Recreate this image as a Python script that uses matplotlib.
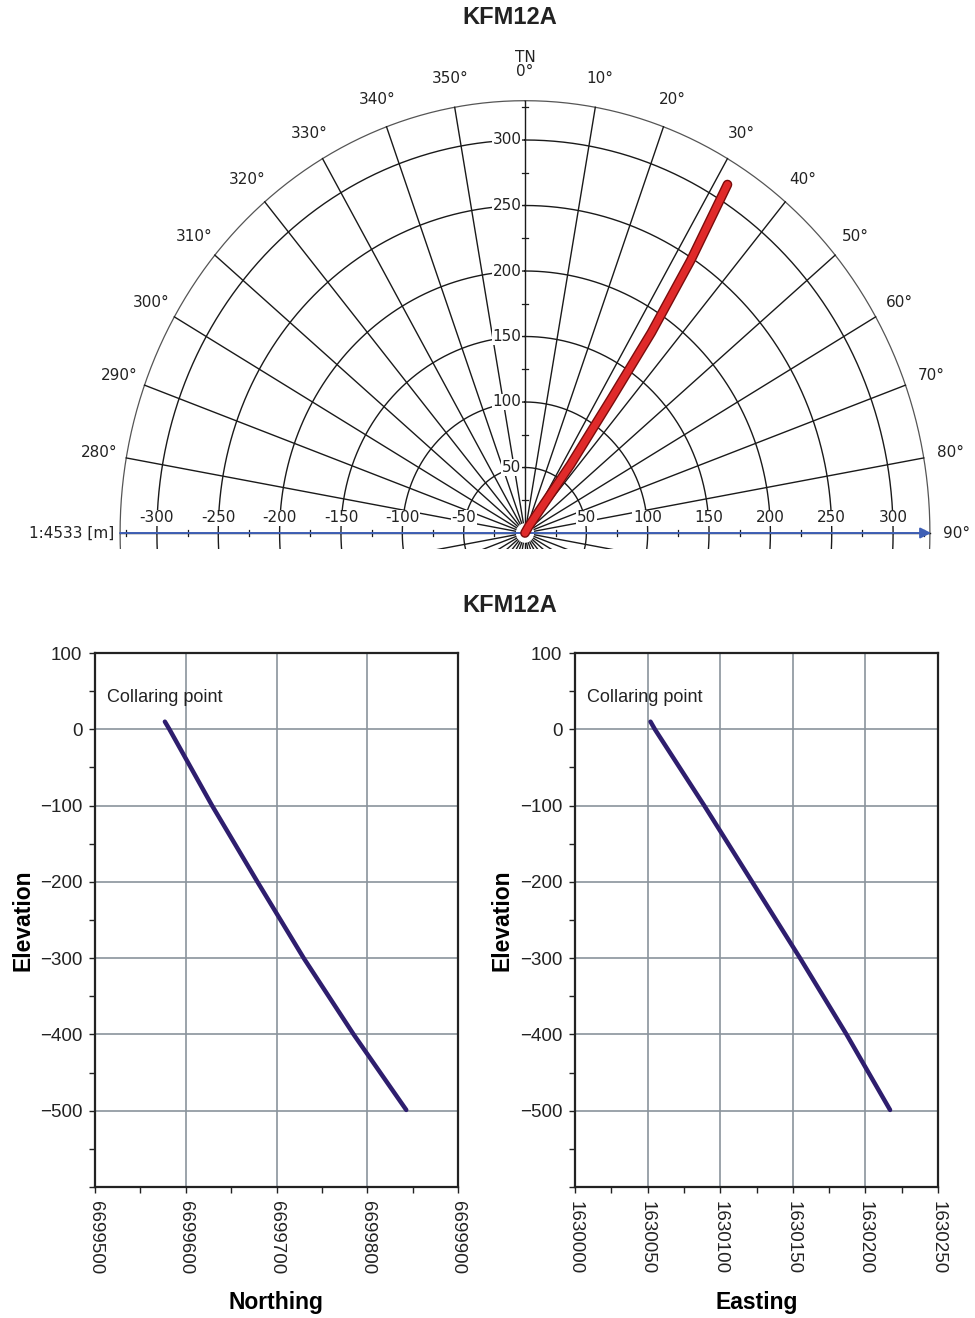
import numpy as np
import matplotlib
matplotlib.use("Agg")
import matplotlib.pyplot as plt
import matplotlib.patheffects as pe
from matplotlib.ticker import MultipleLocator, FixedLocator

plt.rcParams["font.family"] = ["Liberation Sans", "DejaVu Sans"]

# borehole KFM12A trajectory
elevation = [10, 0, -100, -200, -300, -400, -499]
northing = [6699577, 6699582, 6699629, 6699679, 6699730, 6699785, 6699843]
easting = [1630052, 1630055, 1630089, 1630122, 1630155, 1630187, 1630217]

ring_radii = [50, 100, 150, 200, 250, 300]
outer_radius = 330
spoke_angles = list(range(0, 360, 10))
angle_labels = [280, 290, 300, 310, 320, 330, 340, 350, 0, 10, 20, 30, 40, 50, 60, 70, 80, 90]
axis_labels = [-300, -250, -200, -150, -100, -50, 50, 100, 150, 200, 250, 300]
minor_marks = [25, 75, 125, 175, 225, 275, 325]
scale_text = "1:4533 [m]"
title = "KFM12A"

W, H = 975, 1318
fig = plt.figure(figsize=(W / 100, H / 100), dpi=100)

# ---------------- polar (plan) view ----------------
cx, cy = 525, 533          # centre in pixels
sx, sy = 1.227, 1.31       # px per metre, horizontal / vertical
top_px, bot_px = 30, 548.7
ax = fig.add_axes([0, 1 - bot_px / H, 1, (bot_px - top_px) / H])
ax.set_xlim(-cx / sx, (W - cx) / sx)
ax.set_ylim((cy - bot_px) / sy, (cy - top_px) / sy)
ax.axis("off")

t = np.linspace(0, 2 * np.pi, 721)
for r in ring_radii:
    ax.plot(r * np.sin(t), r * np.cos(t), color="#1a1a1a", lw=1.0, zorder=1)
ax.plot(outer_radius * np.sin(t), outer_radius * np.cos(t), color="#555555", lw=0.9, zorder=1)

for a in spoke_angles:
    th = np.radians(a)
    ax.plot([8 * np.sin(th), outer_radius * np.sin(th)],
            [8 * np.cos(th), outer_radius * np.cos(th)], color="#1a1a1a", lw=1.0, zorder=1)

# small ticks along the axes
for m in minor_marks:
    for s in (-1, 1):
        ax.plot([s * m, s * m], [-2.3, 2.3], color="#1a1a1a", lw=0.9, zorder=2)
    ax.plot([-2.4, 2.4], [m, m], color="#1a1a1a", lw=0.9, zorder=2)

blue = "#3f5fb5"
ax.annotate("", xy=(outer_radius + 1, 0), xytext=(-outer_radius, 0),
            arrowprops=dict(arrowstyle="-|>", color=blue, lw=1.4, mutation_scale=16,
                            shrinkA=0, shrinkB=0), zorder=3)

pfont = dict(family="DejaVu Sans", fontsize=11, color="#222222")
wbox = dict(facecolor="white", edgecolor="none", pad=0.5)
for r in ring_radii:
    ax.text(-3, r, str(r), ha="right", va="center", bbox=wbox, zorder=4, **pfont)
for v in axis_labels:
    ax.text(v, 11.5, str(v), ha="center", va="center", bbox=wbox, zorder=4, **pfont)

for a in angle_labels:
    th = np.radians(a)
    ax.text(352 * np.sin(th), 352 * np.cos(th), f"{a}°", ha="center", va="center",
            clip_on=False, **pfont)
ax.text(0, 363, "TN", ha="center", va="center", **pfont)
ax.text(-335, 0, scale_text, ha="right", va="center", clip_on=False, **pfont)

dx = [e - easting[0] for e in easting]
dy = [n - northing[0] for n in northing]
ax.plot(dx, dy, color="#e02a2a", lw=5, solid_capstyle="round", zorder=5,
        path_effects=[pe.Stroke(linewidth=7, foreground="#7a0c0c"), pe.Normal()])

fig.text(510 / W, 1 - 18 / H, title, ha="center", va="center", fontsize=17, fontweight="bold",
         color="#222222")
fig.text(510 / W, 1 - 605 / H, title, ha="center", va="center", fontsize=17, fontweight="bold",
         color="#222222")

# ---------------- sections ----------------
line_col = "#2e1e6e"
grid_col = "#8a939c"


def section(left_px, xs, xlim, xstep, xlabel):
    a = fig.add_axes([left_px / W, 1 - 1187 / H, 363 / W, 534 / H])
    a.plot(xs, elevation, color=line_col, lw=3.2, solid_capstyle="round", zorder=3)
    a.set_xlim(*xlim)
    a.set_ylim(-600, 100)
    a.xaxis.set_minor_locator(MultipleLocator(xstep / 2))
    a.yaxis.set_major_locator(FixedLocator(list(range(-600, 101, 100))))
    a.yaxis.set_minor_locator(MultipleLocator(50))
    a.set_yticklabels(["" if v == -600 else f"{v}".replace("-", "\u2212")
                       for v in range(-600, 101, 100)])
    xt = list(np.arange(xlim[0], xlim[1] + 1, xstep))
    a.set_xticks(xt)
    a.set_xticklabels([f"{v:.0f}" for v in xt], rotation=270, va="top", ha="center")
    a.tick_params(which="both", direction="out", length=4, width=1, colors="#222222",
                  labelsize=13.5)
    a.tick_params(axis="y", which="major", pad=5)
    a.tick_params(axis="x", which="major", pad=6)
    a.grid(True, which="major", color=grid_col, lw=1.2)
    for sp in a.spines.values():
        sp.set_color("#222222")
        sp.set_linewidth(1.6)
    a.set_ylabel("Elevation", fontsize=16.5, fontweight="bold")
    a.yaxis.set_label_coords(-61 / 363, 0.5)
    a.set_xlabel(xlabel, fontsize=16.5, fontweight="bold", labelpad=12)
    a.text(0.033, 0.916, "Collaring point", transform=a.transAxes, ha="left", va="center",
           fontsize=13, color="#222222")
    return a


section(95, northing, (6699500, 6699900), 100, "Northing")
section(575, easting, (1630000, 1630250), 50, "Easting")

fig.savefig("out.png", dpi=100)
